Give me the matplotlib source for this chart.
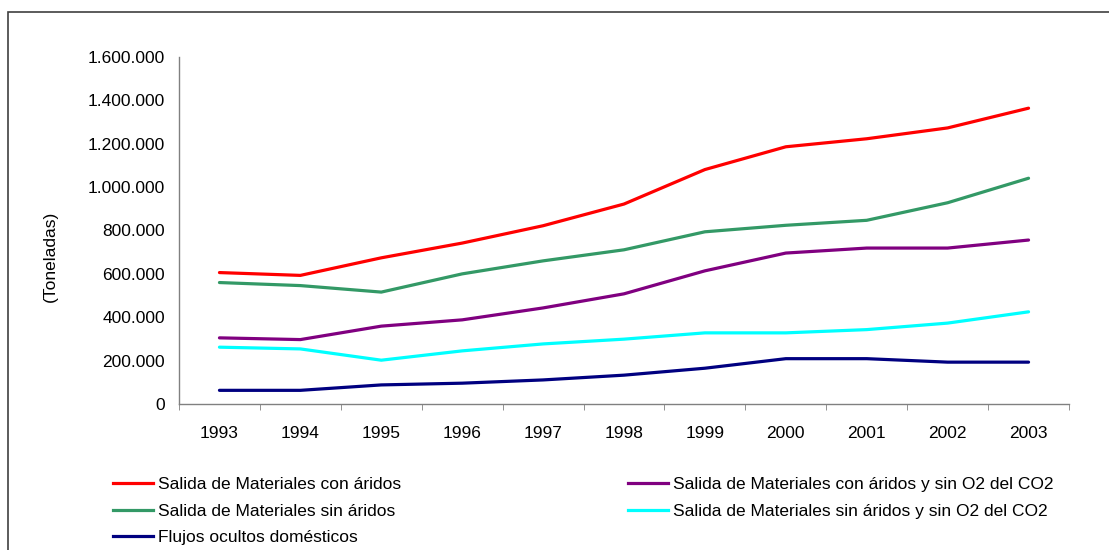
import matplotlib.pyplot as plt
from matplotlib.patches import Rectangle
from matplotlib.lines import Line2D
from matplotlib.ticker import FuncFormatter

plt.rcParams['font.family'] = ['Liberation Sans', 'DejaVu Sans']

years = ["1993", "1994", "1995", "1996", "1997", "1998", "1999", "2000", "2001", "2002", "2003"]

con_aridos = [606000, 593000, 674000, 742000, 822000, 922000, 1081000, 1186000, 1223000, 1273000, 1364000]
sin_aridos = [560000, 546000, 516000, 600000, 660000, 711000, 794000, 824000, 847000, 928000, 1041000]
con_aridos_sin_o2 = [305000, 297000, 359000, 388000, 443000, 508000, 614000, 696000, 719000, 719000, 756000]
sin_aridos_sin_o2 = [262000, 254000, 202000, 245000, 277000, 299000, 328000, 328000, 343000, 373000, 425000]
flujos_ocultos = [63000, 63000, 88000, 96000, 111000, 133000, 165000, 209000, 209000, 193000, 193000]

labels = ["Salida de Materiales con áridos",
          "Salida de Materiales sin áridos",
          "Flujos ocultos domésticos",
          "Salida de Materiales con áridos y sin O2 del CO2",
          "Salida de Materiales sin áridos y sin O2 del CO2"]
series = [con_aridos, sin_aridos, flujos_ocultos, con_aridos_sin_o2, sin_aridos_sin_o2]
colors = ["#FF0000", "#339966", "#000080", "#800080", "#00FFFF"]

FS = 12.5

fig = plt.figure(figsize=(11.09, 5.5), dpi=100)
ax = fig.add_axes([179/1109, 146/550, 890/1109, 347/550])

x = list(range(len(years)))
handles = []
for vals, c, lab in zip(series, colors, labels):
    ax.plot(x, vals, color=c, lw=2.3, solid_capstyle='round')
    handles.append(Line2D([], [], color=c, lw=2.3))

ax.set_xlim(-0.5, len(years) - 0.5)
ax.set_ylim(0, 1600000)
ax.set_yticks(range(0, 1600001, 200000))
ax.yaxis.set_major_formatter(FuncFormatter(lambda v, p: f"{v:,.0f}".replace(",", ".")))
ax.set_xticks(x)
ax.set_xticklabels(years)
ax.set_xticks([i - 0.5 for i in range(len(years) + 1)], minor=True)
ax.tick_params(axis='x', which='major', length=0, pad=16, labelsize=FS)
ax.tick_params(axis='x', which='minor', length=4, direction='out', color='#808080')
ax.tick_params(axis='y', length=0, pad=10, labelsize=FS)

for s in ['top', 'right']:
    ax.spines[s].set_visible(False)
for s in ['left', 'bottom']:
    ax.spines[s].set_color('#808080')
    ax.spines[s].set_linewidth(1.0)

ax.set_ylabel("(Toneladas)", fontsize=FS)
ax.yaxis.set_label_coords(-0.136, 0.425)

leg_kw = dict(frameon=False, fontsize=FS, handlelength=2.3, handletextpad=0.3,
              labelspacing=0.66, borderpad=0, borderaxespad=0, loc='upper left')
fig.legend(handles[:3], labels[:3], bbox_to_anchor=(113/1109, 1 - 477/550), **leg_kw)
fig.legend(handles[3:], labels[3:], bbox_to_anchor=(628/1109, 1 - 477/550), **leg_kw)

frame = Rectangle((8/1109, -0.1), 1.2, 1.1 - 12.5/550, transform=fig.transFigure,
                  fill=False, edgecolor='#404040', lw=1.2, clip_on=False)
fig.patches.append(frame)

fig.savefig("out.png", dpi=100)
